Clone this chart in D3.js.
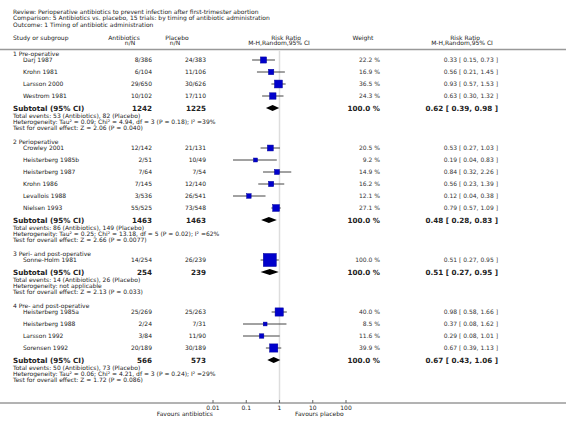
<!DOCTYPE html>
<html><head><meta charset="utf-8">
<script src="https://cdn.jsdelivr.net/npm/d3@7"></script>
<style>body{margin:0;background:#fff}svg{display:block}text{font-family:"DejaVu Sans",sans-serif}</style>
</head><body>
<svg id="c" width="566" height="433"></svg>
<script>
const headerLines = [
  "Review:  Perioperative antibiotics to prevent infection after first-trimester abortion",
  "Comparison:  5 Antibiotics vs. placebo, 15 trials: by timing of antibiotic administration",
  "Outcome:  1 Timing of antibiotic administration"
];
const groupNames = ["1 Pre-operative", "2 Perioperative", "3 Peri- and post-operative", "4 Pre- and post-operative"];
const studyNames = [
  ["Darj 1987", "Krohn 1981", "Larsson 2000", "Westrom 1981"],
  ["Crowley 2001", "Heisterberg 1985b", "Heisterberg 1987", "Krohn 1986", "Levallois 1988", "Nielsen 1993"],
  ["Sonne-Holm 1981"],
  ["Heisterberg 1985a", "Heisterberg 1988", "Larsson 1992", "Sorensen 1992"]
];
const antibioticsNN = [
  ["8/386", "6/104", "29/650", "10/102"],
  ["12/142", "2/51", "7/64", "7/145", "3/536", "55/525"],
  ["14/254"],
  ["25/269", "2/24", "3/84", "20/189"]
];
const placeboNN = [
  ["24/383", "11/106", "30/626", "17/110"],
  ["21/131", "10/49", "7/54", "12/140", "26/541", "73/548"],
  ["26/239"],
  ["25/263", "7/31", "11/90", "30/189"]
];
const weights = [
  [22.2, 16.9, 36.5, 24.3],
  [20.5, 9.2, 14.9, 16.2, 12.1, 27.1],
  [100.0],
  [40.0, 8.5, 11.6, 39.9]
];
const rr = [
  [[0.33, 0.15, 0.73], [0.56, 0.21, 1.45], [0.93, 0.57, 1.53], [0.63, 0.30, 1.32]],
  [[0.53, 0.27, 1.03], [0.19, 0.04, 0.83], [0.84, 0.32, 2.26], [0.56, 0.23, 1.39], [0.12, 0.04, 0.38], [0.79, 0.57, 1.09]],
  [[0.51, 0.27, 0.95]],
  [[0.98, 0.58, 1.66], [0.37, 0.08, 1.62], [0.29, 0.08, 1.01], [0.67, 0.39, 1.13]]
];
const subtotalN = [[1242, 1225], [1463, 1463], [254, 239], [566, 573]];
const subtotalRR = [[0.62, 0.39, 0.98], [0.48, 0.28, 0.83], [0.51, 0.27, 0.95], [0.67, 0.43, 1.06]];
const subtotalNotes = [
  ["Total events: 53 (Antibiotics), 82 (Placebo)", "Heterogeneity: Tau\u00b2 = 0.09; Chi\u00b2 = 4.94, df = 3 (P = 0.18); I\u00b2 =39%", "Test for overall effect: Z = 2.06 (P = 0.040)"],
  ["Total events: 86 (Antibiotics), 149 (Placebo)", "Heterogeneity: Tau\u00b2 = 0.25; Chi\u00b2 = 13.18, df = 5 (P = 0.02); I\u00b2 =62%", "Test for overall effect: Z = 2.66 (P = 0.0077)"],
  ["Total events: 14 (Antibiotics), 26 (Placebo)", "Heterogeneity: not applicable", "Test for overall effect: Z = 2.13 (P = 0.033)"],
  ["Total events: 50 (Antibiotics), 73 (Placebo)", "Heterogeneity: Tau\u00b2 = 0.06; Chi\u00b2 = 4.21, df = 3 (P = 0.24); I\u00b2 =29%", "Test for overall effect: Z = 1.72 (P = 0.086)"]
];
const tickValues = [0.01, 0.1, 1, 10, 100];
const tickLabels = ["0.01", "0.1", "1", "10", "100"];
const favourLeft = "Favours antibiotics", favourRight = "Favours placebo";

const svg = d3.select("#c");
const x = d3.scaleLog().domain([0.01, 100]).range([213, 346]);
const size = d3.scaleSqrt().domain([0, 100]).range([0, 13]);
const fmt2 = d3.format(".2f"), fmt1 = d3.format(".1f");
const ink = "#222";
const FS = 6, FB = 7.2;
const col = {name: 13, study: 23, ab: 152, pl: 206, w: 380, rr: 498};

function txt(xp, y, s, opt = {}) {
  return svg.append("text").attr("x", xp).attr("y", y).attr("dy", "0.35em")
    .attr("font-size", opt.size || FS).attr("font-weight", opt.bold ? "bold" : "normal")
    .attr("text-anchor", opt.anchor || "start").attr("fill", opt.fill || ink).text(s);
}

// header
headerLines.forEach((s, i) => txt(col.name, 12 + i * 6.2, s));
txt(col.name, 38, "Study or subgroup");
txt(124, 37.5, "Antibiotics", {anchor: "middle"});
txt(130, 43, "n/N", {anchor: "middle"});
txt(177, 37.5, "Placebo", {anchor: "middle"});
txt(175, 43, "n/N", {anchor: "middle"});
txt(286, 37.5, "Risk Ratio", {anchor: "middle"});
txt(279, 43, "M-H,Random,95% CI", {anchor: "middle"});
txt(363, 38, "Weight", {anchor: "middle"});
txt(465, 37.5, "Risk Ratio", {anchor: "middle"});
txt(462, 43, "M-H,Random,95% CI", {anchor: "middle"});
svg.append("line").attr("x1", 0).attr("x2", 566).attr("y1", 49.5).attr("y2", 49.5)
  .attr("stroke", "#999").attr("stroke-width", 1.5);

// null line
svg.append("line").attr("x1", x(1)).attr("x2", x(1)).attr("y1", 50.5).attr("y2", 403)
  .attr("stroke", "#ddd").attr("stroke-width", 1.5);

// rows
let y = 53.5;
groupNames.forEach((g, gi) => {
  txt(col.name, y, g);
  let ty = y + 6.5;
  studyNames[gi].forEach((s, si) => {
    const [est, lo, hi] = rr[gi][si];
    txt(col.study, ty, s);
    txt(col.ab, ty, antibioticsNN[gi][si], {anchor: "end"});
    txt(col.pl, ty, placeboNN[gi][si], {anchor: "end"});
    txt(col.w, ty, fmt1(weights[gi][si]) + " %", {anchor: "end", fill: "#333"});
    txt(col.rr, ty, `${fmt2(est)} [ ${fmt2(lo)}, ${fmt2(hi)} ]`, {anchor: "end", fill: "#333"});
    svg.append("line").attr("x1", x(lo)).attr("x2", x(hi)).attr("y1", ty).attr("y2", ty)
      .attr("stroke", "#444").attr("stroke-width", 1);
    const sz = Math.max(3, size(weights[gi][si]));
    svg.append("rect").attr("x", x(est) - sz / 2).attr("y", ty - sz / 2)
      .attr("width", sz).attr("height", sz).attr("fill", "#0000cc").attr("stroke", "#00009a").attr("stroke-width", 0.5);
    ty += 12;
  });
  // subtotal
  const sy = ty;
  txt(col.name, sy, "Subtotal (95% CI)", {bold: true, size: FB});
  txt(col.ab, sy, subtotalN[gi][0], {anchor: "end", bold: true, size: FB});
  txt(col.pl, sy, subtotalN[gi][1], {anchor: "end", bold: true, size: FB});
  txt(col.w, sy, "100.0 %", {anchor: "end", bold: true, size: FB});
  const [se, sl, sh] = subtotalRR[gi];
  txt(col.rr, sy, `${fmt2(se)} [ ${fmt2(sl)}, ${fmt2(sh)} ]`, {anchor: "end", bold: true, size: FB});
  svg.append("path").attr("d", `M${x(sl)},${sy} L${x(se)},${sy - 3} L${x(sh)},${sy} L${x(se)},${sy + 3} Z`)
    .attr("fill", "#000");
  let ny = sy + 8;
  subtotalNotes[gi].forEach((n, ni) => { txt(col.name, ny, n); ny += 6; });
  y = ny - 6 + 13.5;
});

// axis
const ay = 403;
svg.append("line").attr("x1", 0).attr("x2", 566).attr("y1", ay).attr("y2", ay)
  .attr("stroke", "#666").attr("stroke-width", 1);
tickValues.forEach((t, i) => {
  svg.append("line").attr("x1", x(t)).attr("x2", x(t)).attr("y1", ay).attr("y2", ay - 3)
    .attr("stroke", "#666");
  txt(x(t), 407.5, tickLabels[i], {anchor: "middle"});
});
txt(x(0.01), 414, favourLeft, {anchor: "end"});
txt(295, 414, favourRight);
</script>
</body></html>
